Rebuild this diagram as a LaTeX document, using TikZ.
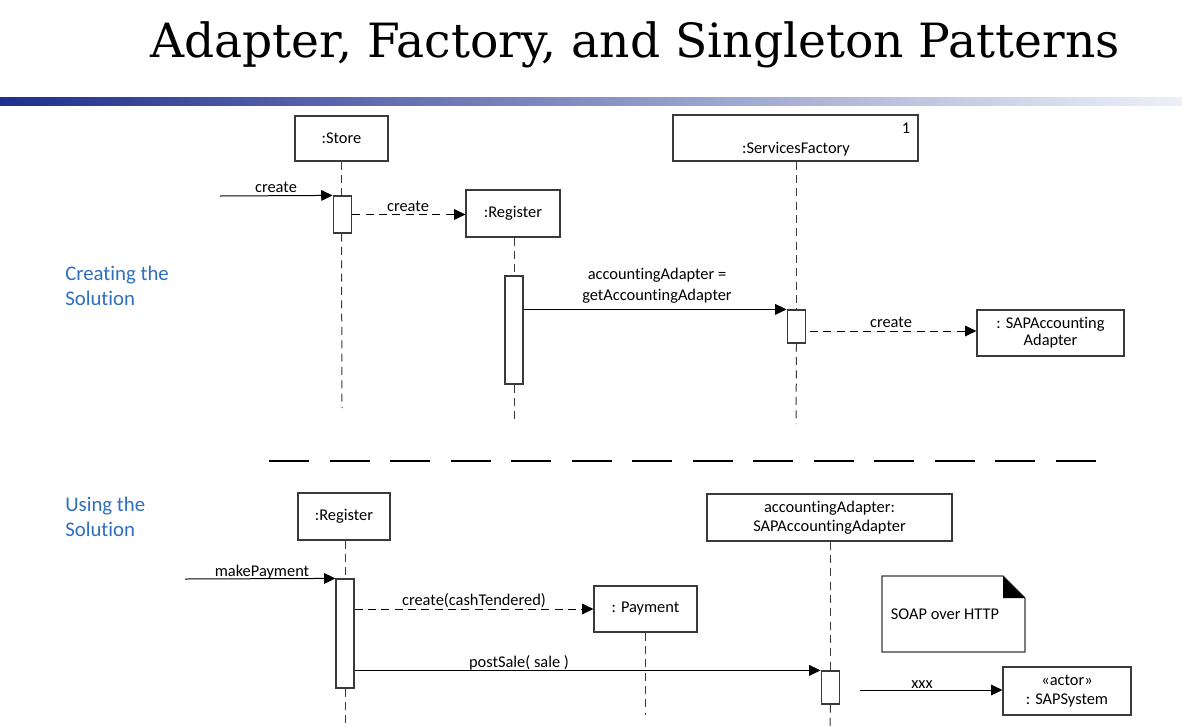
\documentclass[tikz,border=0pt]{standalone}
\usepackage{fontspec}
\setmainfont{Carlito}[RawFeature={-liga;-clig;-dlig}]
\newfontfamily\titlefont{DejaVu Serif}
\usetikzlibrary{arrows.meta,calc}
\definecolor{linec}{HTML}{3A3A3A}
\definecolor{bluetxt}{HTML}{2F6FBF}
\definecolor{barL}{HTML}{1F2F8C}
\definecolor{barR}{HTML}{EEF0F8}
\begin{document}
\begin{tikzpicture}[x=0.75pt,y=-0.75pt,
  font=\fontsize{12.3}{14}\selectfont,
  obj/.style={draw=linec,line width=0.9pt,fill=white,inner sep=0pt,align=center},
  act/.style={draw=linec,line width=0.9pt,fill=white,inner sep=0pt,minimum width=14pt},
  life/.style={draw=linec,line width=0.75pt,dash pattern=on 6pt off 4pt},
  msg/.style={draw=black,line width=0.75pt,-{Triangle[length=8.5pt,width=8pt]}},
  dmsg/.style={msg,dash pattern=on 6pt off 4pt},
  lbl/.style={inner sep=0pt,anchor=base},
  side/.style={inner sep=0pt,anchor=base west,text=bluetxt,font=\fontsize{15.6}{19}\selectfont,align=left}]
\useasboundingbox[fill=white] (0,0) rectangle (1182,726);

% title and bar
\node[inner sep=0pt,anchor=base] (title) at (635,57) {\resizebox{727pt}{!}{\titlefont Adapter, Factory, and Singleton Patterns}};
\shade[left color=barL,right color=barR] (0,97) rectangle (1182,105);

% ---------- top: creating the solution ----------
\node[side] (creating) at (65,280) {Creating the};
\node[side] (creating2) at (65,305) {Solution};

\node[obj,minimum width=69.75pt,minimum height=33.75pt] (store) at (341.5,138.5) {:Store};
\node[obj,minimum width=70.5pt,minimum height=35.25pt] (reg1) at (513,213.5) {:Register};
\node[obj,minimum width=183.75pt,minimum height=34.5pt] (fact) at (795.5,138) {};
\node[lbl] (factname) at (796,153) {:ServicesFactory};
\node[lbl] (factone) at (906,133) {1};
\node[obj,minimum width=110.25pt,minimum height=34.5pt] (sapad) at (1050.5,333) {: SAPAccounting\\[-1pt]Adapter};

\node[act,minimum height=27.75pt] (a1) at (342.5,214.5) {};
\node[act,minimum width=13.5pt,minimum height=81pt] (a2) at (514,330) {};
\node[act,minimum height=24.75pt] (a3) at (796.5,326.5) {};

\coordinate (storeend) at (342,408);
\coordinate (reg1end) at (514,423);
\coordinate (factend) at (796,424);
\draw[life] (store.south) -- (a1.north -| store.south);
\draw[life] (a1.south -| store.south) -- (storeend);
\draw[life] (reg1.south -| a2.north) -- (a2.north);
\draw[life] (a2.south) -- (reg1end);
\draw[life] (fact.south -| a3.north) -- (a3.north);
\draw[life] (a3.south) -- (factend);

\coordinate (found1) at (220,196);
\draw[msg] (found1) -- (a1.north west);
\node[lbl] (lc1) at (276,192) {create};
\draw[dmsg] (a1.east) -- (a1.east -| reg1.west);
\node[lbl] (lc2) at (408,211) {create};
\draw[msg] (a2.east |- a3.north) -- (a3.north west);
\node[lbl] (lacc1) at (657,279) {accountingAdapter =};
\node[lbl] (lacc2) at (657,300) {getAccountingAdapter};
\coordinate (c3start) at (810,331);
\draw[dmsg] (c3start) -- (c3start -| sapad.west);
\node[lbl] (lc3) at (891,327) {create};

% separator
\coordinate (sepL) at (269,461);
\coordinate (sepR) at (1097,461);
\draw[black,line width=1.9pt,dash pattern=on 30pt off 15.4pt] (sepL) -- (sepR);

% ---------- bottom: using the solution ----------
\node[side] (using) at (65,511) {Using the};
\node[side] (using2) at (65,536) {Solution};

\node[obj,minimum width=69pt,minimum height=35.25pt] (reg2) at (344,516.5) {:Register};
\node[obj,minimum width=77.25pt,minimum height=34.5pt] (pay) at (645.5,609) {: Payment};
\node[obj,minimum width=183.75pt,minimum height=35.25pt] (accad) at (829.5,517.5) {accountingAdapter:\\[0pt]SAPAccountingAdapter};
\node[obj,minimum width=96pt,minimum height=36pt] (sapsys) at (1067,691) {«actor»\\[0pt]: SAPSystem};

\node[act,minimum width=13.5pt,minimum height=81.75pt] (a4) at (345,633.5) {};
\node[act,minimum height=24.75pt] (a5) at (830.5,687.5) {};

\coordinate (reg2end) at (345,726);
\coordinate (payend) at (645,715);
\coordinate (accend) at (830,726);
\draw[life] (reg2.south -| a4.north) -- (a4.north);
\draw[life] (a4.south) -- (reg2end);
\draw[life] (pay.south -| payend) -- (payend);
\draw[life] (accad.south -| a5.north) -- (a5.north);
\draw[life] (a5.south) -- (accend);

\coordinate (found2) at (185,579);
\draw[msg] (found2) -- (a4.north west);
\node[lbl] (lmp) at (262,576) {makePayment};
\draw[dmsg] (a4.east |- pay.west) -- (pay.west);
\node[lbl] (lct) at (474,605) {create(cashTendered)};
\draw[msg] (a4.east |- a5.north) -- (a5.north west);
\node[lbl] (lps) at (519,667) {postSale( sale )};

% note
\draw[linec,line width=0.9pt,fill=white] (882,576) -- (1003,576) -- (1025,598) -- (1025,652) -- (882,652) -- cycle;
\fill[black] (1003,576) -- (1025,598) -- (1003,598) -- cycle;
\node[lbl] (note) at (945,619) {SOAP over HTTP};

\coordinate (xxxstart) at (860,690);
\draw[msg] (xxxstart) -- (xxxstart -| sapsys.west);
\node[lbl] (lxxx) at (922,688) {xxx};
\end{tikzpicture}
\end{document}
